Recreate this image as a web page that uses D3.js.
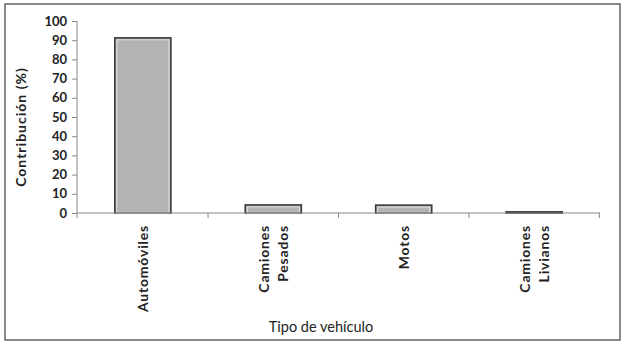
<!DOCTYPE html>
<html><head><meta charset="utf-8">
<script src="https://cdn.jsdelivr.net/npm/d3@7"></script>
<style>body{margin:0;background:#fff}svg{display:block}</style>
</head><body>
<script>
const categories = [["Automóviles"], ["Camiones", "Pesados"], ["Motos"], ["Camiones", "Livianos"]];
const values = [91.2, 4.2, 4.1, 0.6];
const yTicks = [0, 10, 20, 30, 40, 50, 60, 70, 80, 90, 100];
const yTitle = "Contribución  (%)";
const xTitle = "Tipo de vehículo";

const W = 624, H = 343;
const svg = d3.select("body").append("svg").attr("width", W).attr("height", H);
const font = "Lato, 'Open Sans', sans-serif";

svg.append("rect").attr("x", 5).attr("y", 4).attr("width", 615).attr("height", 336)
  .attr("fill", "#fff").attr("stroke", "#6e6e6e").attr("stroke-width", 1.6);

const m = {left: 77, right: 600, top: 21, bottom: 213};
const x = d3.scaleBand().domain(d3.range(categories.length)).range([m.left, m.right]).paddingInner(0.57).paddingOuter(0.29);
const y = d3.scaleLinear().domain([0, 100]).range([m.bottom, m.top]);

// bars
const g = svg.append("g");
values.forEach((v, i) => {
  g.append("rect").attr("x", x(i)).attr("y", y(v)).attr("width", x.bandwidth()).attr("height", m.bottom - y(v))
    .attr("fill", "#b3b3b3").attr("stroke", "#3a3a3a").attr("stroke-width", 1.6);
  if (m.bottom - y(v) > 4) {
    g.append("rect").attr("x", x(i) + 2).attr("y", y(v) + 2).attr("width", x.bandwidth() - 4).attr("height", m.bottom - y(v) - 2)
      .attr("fill", "none").attr("stroke", "#e8e8e8").attr("stroke-width", 0.8);
  }
});

// y axis
const ya = svg.append("g").attr("transform", `translate(${m.left},0)`)
  .call(d3.axisLeft(y).tickValues(yTicks).tickSize(5).tickPadding(5));
ya.select(".domain").attr("d", `M0,${m.bottom + 5}V${m.top}`).attr("stroke", "#888");
ya.selectAll(".tick line").attr("stroke", "#888");
ya.selectAll("text").attr("font-family", font).attr("font-weight", "bold").attr("font-size", 13).attr("fill", "#222");

// x axis
const xa = svg.append("g").attr("transform", `translate(0,${m.bottom})`);
xa.append("line").attr("x1", m.left).attr("x2", m.right).attr("stroke", "#888");
const bounds = d3.range(categories.length).map(i => x(i) + x.bandwidth() + x.step() * x.paddingInner() / 2);
bounds.forEach(b => {
  xa.append("line").attr("x1", b).attr("x2", b).attr("y1", 0).attr("y2", 5).attr("stroke", "#888");
});
categories.forEach((lines, i) => {
  const cx = x(i) + x.bandwidth() / 2;
  const n = lines.length;
  lines.forEach((t, j) => {
    const dx = (j - (n - 1) / 2) * 19;
    xa.append("text").attr("transform", `translate(${cx + dx + 5},12) rotate(-90)`)
      .attr("text-anchor", "end").attr("font-family", font).attr("font-weight", "bold")
      .attr("font-size", 14).attr("letter-spacing", 0.8).attr("fill", "#222").text(t);
  });
});

// titles
svg.append("text").attr("transform", `translate(26,127) rotate(-90)`).attr("text-anchor", "middle")
  .attr("font-family", font).attr("font-weight", "bold").attr("font-size", 14).attr("letter-spacing", 1)
  .attr("fill", "#222").text(yTitle);
svg.append("text").attr("x", 321).attr("y", 332).attr("text-anchor", "middle")
  .attr("font-family", font).attr("font-size", 14.5).attr("fill", "#222").text(xTitle);
</script>
</body></html>
